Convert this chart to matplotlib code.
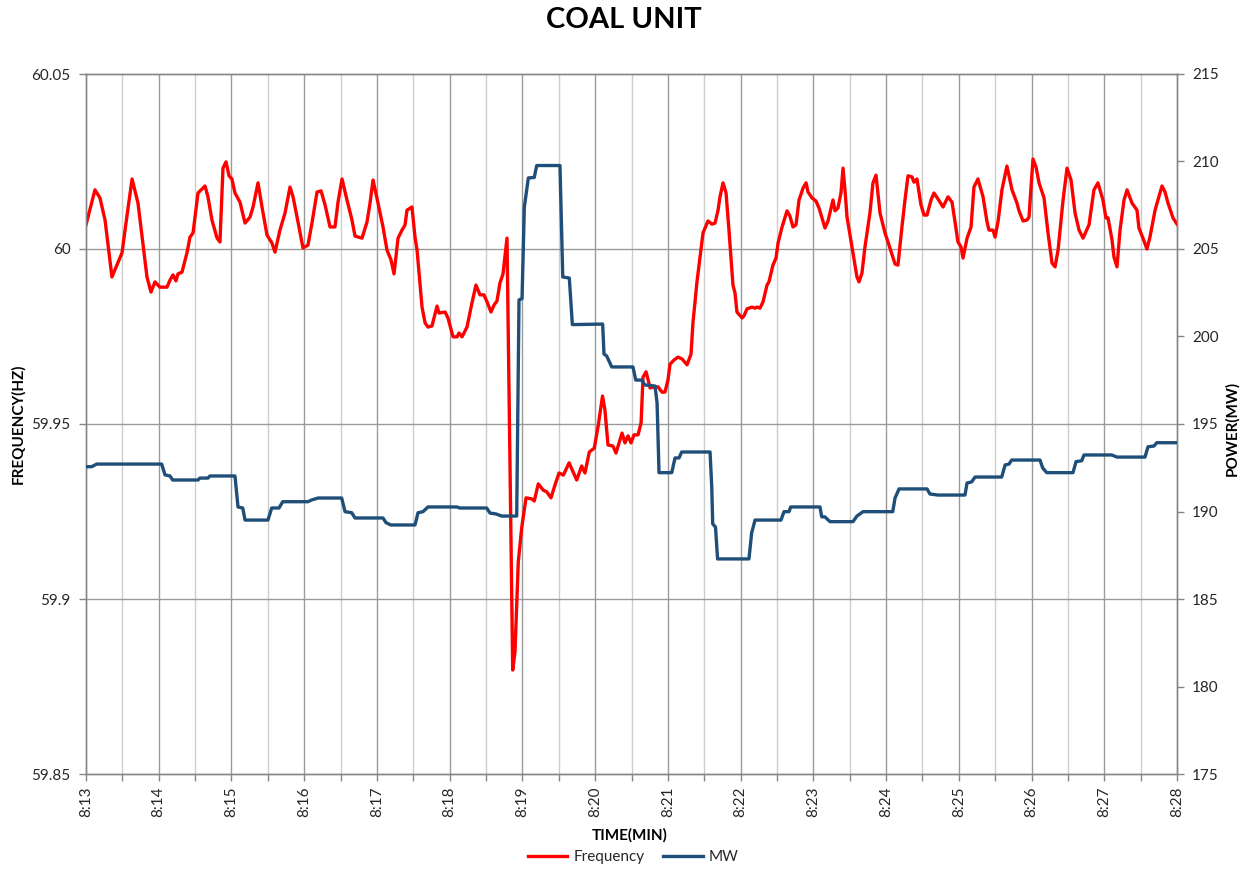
import matplotlib
matplotlib.use("Agg")
import matplotlib.pyplot as plt
from matplotlib.ticker import FixedLocator, FixedFormatter

# ---------------- data ----------------
time_labels = ["8:13", "8:14", "8:15", "8:16", "8:17", "8:18", "8:19", "8:20",
               "8:21", "8:22", "8:23", "8:24", "8:25", "8:26", "8:27", "8:28"]

freq_tick_values = [59.85, 59.90, 59.95, 60.00, 60.05]
freq_tick_labels = ["59.85", "59.9", "59.95", "60", "60.05"]
mw_tick_values = [175, 180, 185, 190, 195, 200, 205, 210, 215]

# seconds after 8:13:00
freq_time_s = [
    0, 7.4, 11.5, 15.7, 21.4, 29.7, 32.2, 38.0, 42.9, 50.3,
    53.6, 56.9, 61.0, 66.8, 69.3, 71.8, 74.2, 75.9, 79.2, 83.3,
    85.8, 88.3, 92.4, 98.2, 100.6, 103.9, 108.1, 110.5, 113.0, 115.5,
    118.0, 120.4, 122.9, 127.0, 131.2, 135.3, 137.8, 141.9, 145.2, 149.3,
    153.4, 155.9, 160.0, 164.2, 168.3, 170.8, 174.9, 179.0, 183.1, 186.4,
    190.6, 193.9, 197.2, 201.3, 205.4, 207.9, 211.2, 215.3, 219.4, 221.9,
    227.7, 231.8, 234.3, 236.8, 240.9, 245.0, 248.3, 251.6, 254.1, 257.4,
    260.7, 263.2, 264.8, 268.9, 271.4, 273.1, 277.2, 279.7, 282.1, 285.4,
    289.6, 291.2, 296.2, 298.6, 302.8, 306.1, 307.7, 310.2, 314.3, 318.4,
    321.7, 325.0, 328.3, 330.8, 334.1, 336.6, 339.0, 341.5, 344.0, 347.3,
    352.0, 353.9, 356.6, 359.4, 363.0, 367.7, 369.8, 373.1, 377.2, 380.1,
    383.6, 386.9, 390.2, 393.8, 398.5, 401.5, 404.8, 408.9, 411.6, 415.2,
    419.3, 422.6, 426.1, 428.1, 430.6, 434.7, 437.2, 442.2, 444.6, 447.1,
    449.6, 452.1, 455.4, 457.9, 459.5, 462.0, 463.7, 465.3, 469.4, 471.9,
    475.2, 477.6, 480.1, 481.8, 485.1, 488.4, 491.7, 495.8, 499.1, 500.7,
    504.0, 507.3, 509.0, 513.1, 516.4, 518.9, 521.4, 523.0, 525.5, 528.0,
    530.4, 533.7, 535.4, 537.0, 541.2, 542.8, 545.3, 549.4, 551.9, 553.5,
    556.0, 558.5, 561.8, 563.4, 566.7, 569.2, 570.9, 574.2, 578.3, 580.7,
    583.2, 585.7, 588.2, 591.5, 594.0, 595.6, 598.9, 602.2, 604.7, 609.6,
    612.1, 616.2, 617.9, 620.3, 622.8, 624.5, 626.1, 627.8, 631.9, 636.0,
    637.7, 640.1, 642.6, 646.7, 649.2, 651.7, 655.0, 659.1, 663.2, 667.4,
    669.8, 673.1, 675.6, 678.1, 681.4, 683.0, 685.5, 688.8, 691.3, 693.8,
    697.1, 699.5, 702.8, 707.0, 711.1, 714.4, 716.9, 719.3, 721.8, 723.5,
    726.8, 730.1, 732.5, 735.8, 740.0, 743.3, 744.9, 748.2, 749.9, 752.3,
    755.6, 759.7, 763.9, 768.0, 769.7, 773.0, 776.3, 777.9, 781.2, 783.7,
    786.2, 790.3, 793.6, 796.9, 799.4, 801.9, 806.0, 809.3, 812.6, 815.9,
    819.2, 822.5, 827.4, 831.5, 834.8, 838.9, 841.4, 843.1, 846.4, 848.0,
    850.5, 853.0, 856.3, 858.8, 862.9, 867.0, 868.6, 871.9, 875.2, 877.7,
    881.9, 887.6, 890.1, 892.6, 896.7, 900.0,
]

freq_hz = [
    60.0069, 60.0169, 60.0146, 60.0083, 59.9920, 59.9989, 60.0054, 60.0200, 60.0131, 59.9920,
    59.9877, 59.9906, 59.9891, 59.9891, 59.9911, 59.9926, 59.9909, 59.9929, 59.9934, 59.9989,
    60.0034, 60.0046, 60.0160, 60.0180, 60.0149, 60.0083, 60.0031, 60.0020, 60.0231, 60.0249,
    60.0209, 60.0200, 60.0160, 60.0134, 60.0074, 60.0091, 60.0120, 60.0189, 60.0120, 60.0040,
    60.0017, 59.9991, 60.0054, 60.0103, 60.0177, 60.0149, 60.0077, 60.0003, 60.0011, 60.0074,
    60.0163, 60.0166, 60.0126, 60.0063, 60.0063, 60.0134, 60.0200, 60.0140, 60.0083, 60.0037,
    60.0031, 60.0077, 60.0131, 60.0197, 60.0131, 60.0063, 59.9997, 59.9969, 59.9929, 60.0031,
    60.0054, 60.0069, 60.0111, 60.0120, 60.0034, 59.9997, 59.9834, 59.9789, 59.9777, 59.9780,
    59.9837, 59.9817, 59.9820, 59.9803, 59.9749, 59.9749, 59.9760, 59.9749, 59.9777, 59.9846,
    59.9897, 59.9869, 59.9869, 59.9849, 59.9820, 59.9840, 59.9851, 59.9903, 59.9929, 60.0031,
    59.8797, 59.8849, 59.9106, 59.9203, 59.9289, 59.9286, 59.9280, 59.9329, 59.9311, 59.9306,
    59.9289, 59.9326, 59.9360, 59.9354, 59.9389, 59.9366, 59.9340, 59.9380, 59.9360, 59.9420,
    59.9431, 59.9497, 59.9580, 59.9540, 59.9440, 59.9437, 59.9417, 59.9474, 59.9446, 59.9466,
    59.9446, 59.9469, 59.9469, 59.9503, 59.9634, 59.9649, 59.9626, 59.9603, 59.9606, 59.9606,
    59.9591, 59.9591, 59.9626, 59.9671, 59.9683, 59.9691, 59.9686, 59.9669, 59.9700, 59.9789,
    59.9906, 59.9997, 60.0046, 60.0080, 60.0071, 60.0074, 60.0111, 60.0149, 60.0189, 60.0160,
    60.0054, 59.9897, 59.9874, 59.9820, 59.9803, 59.9809, 59.9829, 59.9834, 59.9831, 59.9834,
    59.9831, 59.9849, 59.9897, 59.9906, 59.9954, 59.9974, 60.0017, 60.0063, 60.0109, 60.0094,
    60.0063, 60.0069, 60.0140, 60.0174, 60.0189, 60.0163, 60.0146, 60.0137, 60.0117, 60.0060,
    60.0080, 60.0140, 60.0109, 60.0117, 60.0160, 60.0231, 60.0169, 60.0091, 60.0006, 59.9920,
    59.9906, 59.9931, 60.0006, 60.0103, 60.0189, 60.0211, 60.0103, 60.0046, 60.0003, 59.9957,
    59.9954, 60.0063, 60.0140, 60.0209, 60.0206, 60.0191, 60.0200, 60.0126, 60.0097, 60.0097,
    60.0140, 60.0160, 60.0143, 60.0120, 60.0149, 60.0134, 60.0077, 60.0020, 60.0006, 59.9974,
    60.0031, 60.0063, 60.0177, 60.0200, 60.0149, 60.0077, 60.0054, 60.0054, 60.0034, 60.0077,
    60.0169, 60.0237, 60.0169, 60.0131, 60.0109, 60.0080, 60.0083, 60.0091, 60.0257, 60.0234,
    60.0189, 60.0146, 60.0046, 59.9960, 59.9949, 59.9997, 60.0140, 60.0231, 60.0197, 60.0103,
    60.0054, 60.0031, 60.0069, 60.0169, 60.0189, 60.0140, 60.0089, 60.0089, 60.0026, 59.9977,
    59.9949, 60.0054, 60.0140, 60.0169, 60.0131, 60.0111, 60.0060, 60.0031, 60.0000, 60.0034,
    60.0111, 60.0180, 60.0163, 60.0131, 60.0089, 60.0071,
]

mw_time_s = [
    0, 4.7, 8.8, 62.4, 65.2, 69.3, 71.5, 92.4, 94.0, 100.6,
    102.3, 122.9, 125.4, 129.3, 131.2, 150.1, 153.2, 159.2, 162.3, 183.1,
    186.2, 191.4, 210.9, 213.7, 219.2, 221.9, 245.0, 247.5, 251.4, 271.4,
    273.9, 278.0, 282.1, 305.8, 308.5, 330.5, 333.3, 338.2, 342.9, 355.3,
    357.2, 359.7, 361.6, 364.9, 369.8, 371.8, 391.0, 393.3, 398.7, 401.2,
    426.2, 427.3, 429.5, 433.7, 451.2, 453.5, 458.4, 461.1, 469.4, 471.1,
    472.7, 483.2, 485.9, 489.2, 491.4, 514.8, 516.2, 517.0, 519.3, 521.0,
    546.9, 549.1, 551.9, 573.3, 575.8, 579.9, 581.3, 605.5, 606.9, 609.6,
    613.7, 632.7, 636.0, 641.0, 665.5, 667.4, 670.7, 693.8, 696.2, 702.8,
    725.1, 726.8, 730.6, 733.4, 755.4, 758.2, 761.4, 763.6, 787.0, 789.2,
    792.5, 814.2, 816.7, 821.4, 823.3, 846.1, 850.5, 873.6, 876.1, 881.0,
    883.3, 900.0,
]

mw_values = [
    192.56, 192.56, 192.71, 192.71, 192.09, 192.03, 191.80, 191.80, 191.91, 191.91,
    192.03, 192.03, 190.26, 190.20, 189.51, 189.51, 190.20, 190.20, 190.56, 190.56,
    190.66, 190.77, 190.77, 189.99, 189.93, 189.63, 189.63, 189.36, 189.23, 189.23,
    189.93, 189.99, 190.26, 190.26, 190.20, 190.20, 189.91, 189.86, 189.74, 189.74,
    202.09, 202.17, 207.40, 209.06, 209.09, 209.77, 209.77, 203.40, 203.34, 200.68,
    200.71, 199.00, 198.89, 198.26, 198.26, 197.51, 197.51, 197.23, 197.17, 196.20,
    192.22, 192.22, 193.06, 193.06, 193.40, 193.40, 191.40, 189.29, 189.11, 187.29,
    187.29, 188.77, 189.51, 189.51, 189.99, 189.99, 190.26, 190.26, 189.70, 189.69,
    189.42, 189.42, 189.74, 189.99, 189.99, 190.77, 191.29, 191.29, 191.00, 190.94,
    190.94, 191.63, 191.69, 191.97, 191.97, 192.66, 192.71, 192.94, 192.94, 192.49,
    192.22, 192.22, 192.85, 192.90, 193.23, 193.23, 193.11, 193.11, 193.70, 193.74,
    193.93, 193.93,
]

# ---------------- style ----------------
FONT = ["Lato", "DejaVu Sans"]
plt.rcParams["font.family"] = FONT
AXIS_GREY = "#868686"
TEXT = "#262626"

W, H = 1247, 871
fig = plt.figure(figsize=(W / 100, H / 100), dpi=100)
L, R, T, B = 86, 1177, 74, 774
ax = fig.add_axes([L / W, 1 - B / H, (R - L) / W, (B - T) / H])
ax2 = ax.twinx()

# grid lines
for i in range(0, 31):
    s = i * 30
    if 0 < s < 900:
        col = "#9A9A9A" if i % 2 == 0 else "#CDCDCD"
        ax.axvline(s, color=col, lw=1.0, zorder=0)
for v in freq_tick_values[1:-1]:
    ax.axhline(v, color="#9A9A9A", lw=1.0, zorder=0)

ax.plot(freq_time_s, freq_hz, color="#FF0000", lw=2.4, solid_joinstyle="round",
        label="Frequency", zorder=3)
ax2.plot(mw_time_s, mw_values, color="#1F4E79", lw=2.4, solid_joinstyle="round",
         label="MW", zorder=3)

ax.set_xlim(0, 900)
ax.set_ylim(59.85, 60.05)
ax2.set_ylim(175, 215)

ax.xaxis.set_major_locator(FixedLocator([i * 60 for i in range(len(time_labels))]))
ax.xaxis.set_major_formatter(FixedFormatter(time_labels))
ax.xaxis.set_minor_locator(FixedLocator([i * 60 + 30 for i in range(len(time_labels) - 1)]))
ax.yaxis.set_major_locator(FixedLocator(freq_tick_values))
ax.yaxis.set_major_formatter(FixedFormatter(freq_tick_labels))
ax2.yaxis.set_major_locator(FixedLocator(mw_tick_values))
ax2.yaxis.set_major_formatter(FixedFormatter([str(v) for v in mw_tick_values]))

for a in (ax, ax2):
    for sp in a.spines.values():
        sp.set_color(AXIS_GREY)
        sp.set_linewidth(1.0)
    a.tick_params(axis="both", which="both", direction="out", length=5,
                  color=AXIS_GREY, labelcolor=TEXT, labelsize=11, width=1.0)
ax.tick_params(axis="x", labelrotation=90, pad=4)
ax.tick_params(axis="y", pad=6)
ax2.tick_params(axis="y", pad=6)

fig.text(624 / W, 1 - 20 / H, "COAL UNIT", ha="center", va="center",
         fontsize=21, fontweight="bold", color="black")
fig.text(18 / W, 1 - 424 / H, "FREQUENCY(HZ)", rotation=90, ha="center", va="center",
         fontsize=11, fontweight="bold", color="black")
fig.text(1232 / W, 1 - 428 / H, "POWER(MW)", rotation=90, ha="center", va="center",
         fontsize=11, fontweight="bold", color="black")
fig.text(630 / W, 1 - 835 / H, "TIME(MIN)", ha="center", va="center",
         fontsize=11, fontweight="bold", color="black")

h1, l1 = ax.get_legend_handles_labels()
h2, l2 = ax2.get_legend_handles_labels()
fig.legend(h1 + h2, l1 + l2, loc="center", bbox_to_anchor=(633 / W, 1 - 857 / H),
           ncol=2, frameon=False, fontsize=11, handlelength=2.6, columnspacing=1.2,
           handletextpad=0.4, labelcolor=TEXT)

fig.savefig("out.png", dpi=100)
